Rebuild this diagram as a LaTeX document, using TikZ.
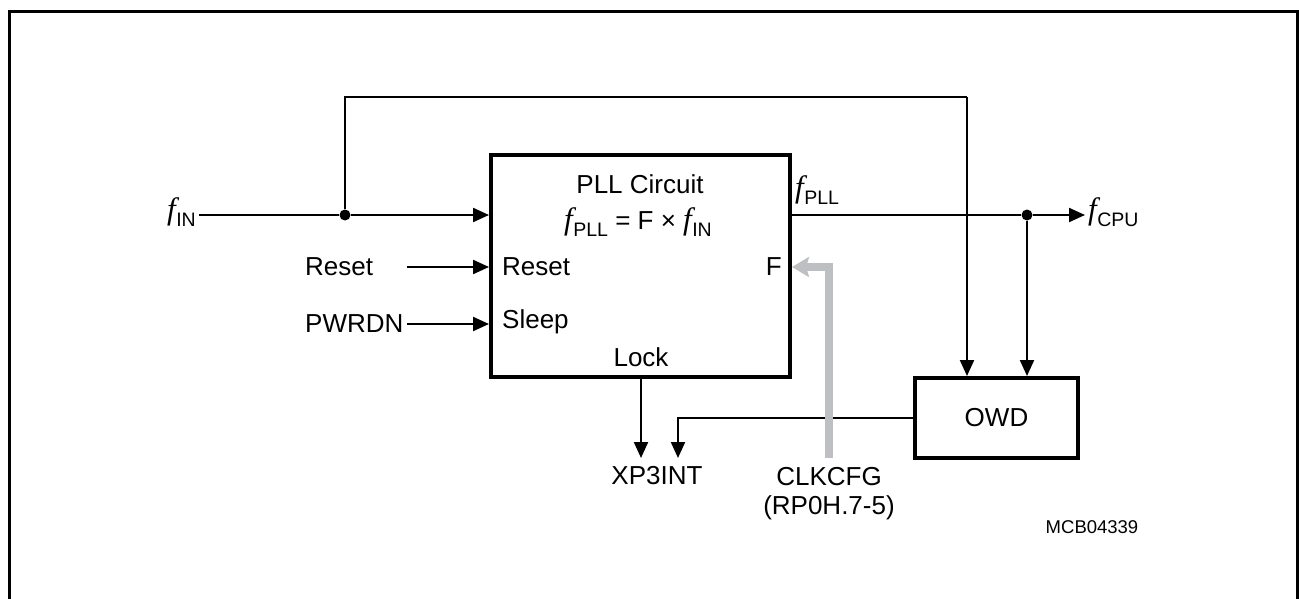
\documentclass[tikz,border=0pt]{standalone}
\usepackage{fontspec}
\setmainfont{Liberation Sans}
\newfontfamily\tmsfam{Liberation Serif}
\usetikzlibrary{arrows.meta}
\newcommand\fsig[1]{{\tmsfam\itshape\fontsize{31}{31}\selectfont f}\kern0.5pt\raisebox{-0.28em}{\fontsize{19.5}{20}\selectfont #1}}
\definecolor{cfggray}{RGB}{190,191,195}
\tikzset{
  lbl/.style={inner sep=3pt, font=\fontsize{26}{29}\selectfont},
  blk/.style={draw, line width=4pt, inner sep=0pt},
  wire/.style={line width=2.2pt},
  arr/.style={wire, -{Triangle[length=16pt,width=14pt]}},
  junc/.style={circle, fill, inner sep=0pt, minimum size=11pt},
  cfg/.style={line width=8pt, color=cfggray, -{Stealth[length=17pt,width=20pt,inset=3pt]}},
}
\begin{document}
\begin{tikzpicture}[x=1pt,y=-1pt]
\useasboundingbox (0,0) rectangle (1299,599);
\begin{scope}
\clip (0,0) rectangle (1299,599);
\draw[line width=3pt] (9.5,640) -- (9.5,11.5) -- (1297.5,11.5) -- (1297.5,640);
\end{scope}

% blocks
\node[blk, minimum width=299pt, minimum height=222pt] (pll) at (640.5,266) {};
\node[blk, minimum width=163pt, minimum height=80pt, lbl] (owd) at (996.5,418) {OWD};

% texts inside PLL
\node[lbl] (title) at (640,184) {PLL Circuit};
\node[lbl] (eqn) at (638,222) {\fsig{PLL} = F × \fsig{IN}};
\node[lbl, anchor=west] (rin) at (499,267) {Reset};
\node[lbl, anchor=west] (sin) at (499,322) {Sleep};
\node[lbl, anchor=east] (fin2) at (785,267) {F};
\node[lbl] (lock) at (641,357) {Lock};

% outer labels
\node[lbl, anchor=east] (fin) at (199,212) {\fsig{IN}};
\node[lbl, anchor=west] (reset) at (302,267) {Reset};
\node[lbl, anchor=west] (pwrdn) at (302,324) {PWRDN};
\node[lbl, anchor=west] (fpll) at (792,190) {\fsig{PLL}};
\node[lbl, anchor=west] (fcpu) at (1085,212) {\fsig{CPU}};
\node[lbl] (xp3) at (657,476) {XP3INT};
\node[lbl, align=center] (clk) at (829,494) {CLKCFG\\(RP0H.7-5)};
\node[inner sep=0pt, font=\fontsize{18.5}{20}\selectfont] (mcb) at (1092,527) {MCB04339};

% junctions
\node[junc] (j1) at (345,215) {};
\node[junc] (j2) at (1027,215) {};
\coordinate (top1) at (345,97);
\coordinate (top2) at (967,97);
\coordinate (xin) at (641,458);
\coordinate (xin2) at (678,458);

% connectors
\draw[wire] (fin.east |- j1) -- (j1);
\draw[arr] (j1) -- (pll.west |- j1);
\draw[wire] (j1) -- (top1) -- (top2);
\draw[arr] (top2) -- (top2 |- owd.north);
\draw[arr] (reset.east -| pwrdn.east) -- (pll.west |- reset.east);
\draw[arr] (pwrdn.east) -- (pll.west |- pwrdn.east);
\draw[wire] (pll.east |- j2) -- (j2);
\draw[arr] (j2) -- (1085,215);
\draw[arr] (j2) -- (j2 |- owd.north);
\draw[arr] (lock.south |- pll.south) -- (xin);
\draw[arr] (owd.west) -- (xin2 |- owd.west) -- (xin2);
\draw[cfg] (829,458) -- (829,267) -- (pll.east |- fin2);
\end{tikzpicture}
\end{document}
